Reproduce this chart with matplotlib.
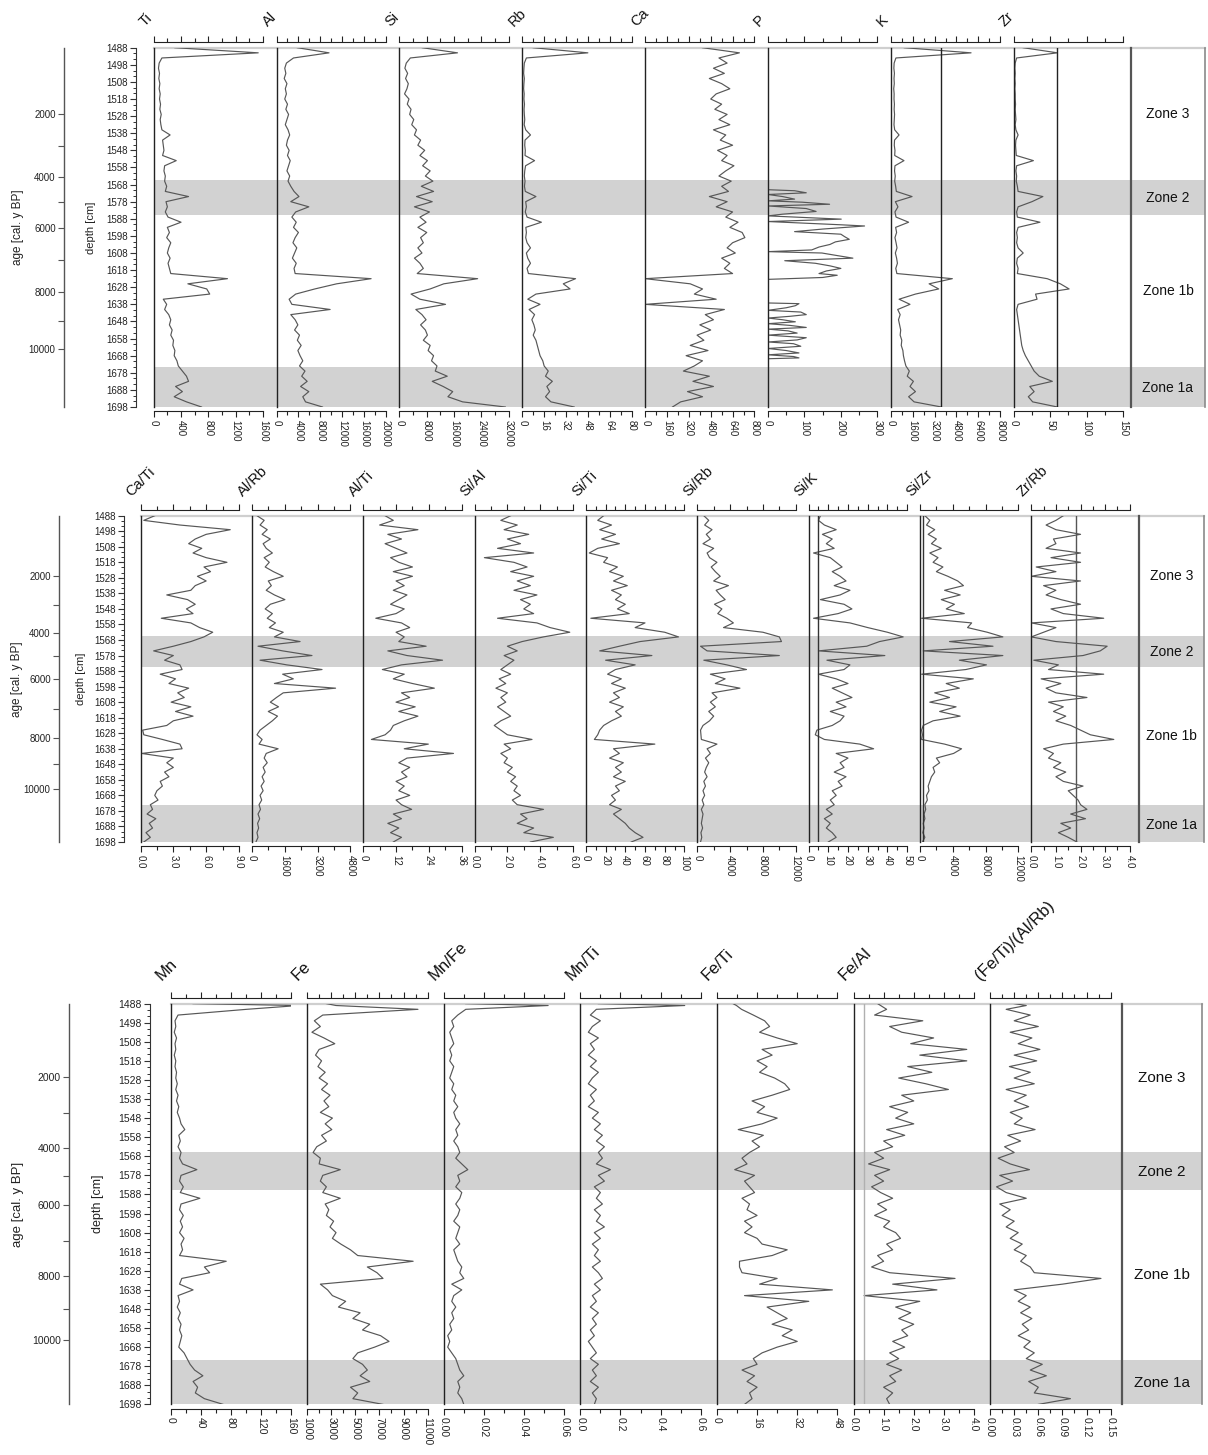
"""XRF element and ratio profiles against depth, with age scale and zonation"""

import numpy as np
import matplotlib
matplotlib.use("Agg")
import matplotlib.pyplot as plt
from matplotlib.ticker import FixedLocator, FormatStrFormatter, AutoMinorLocator

plt.rcParams['font.family'] = ['Liberation Sans', 'DejaVu Sans']

W, H = 1208, 1455
nan = np.nan

# sampling grid [cm]
depth = np.arange(1488, 1699, 3)
depth3 = np.concatenate([[1488, 1489], np.arange(1491, 1699, 3)])

# age model (cal. y BP) and the depth each tick sits at
age_ticks = [2000, 3000, 4000, 5000, 6000, 7000, 8000, 9000, 10000]
age_depth = [1526.7, 1545.3, 1563.6, 1578.1, 1593.4, 1612.2, 1630.8, 1648.0, 1664.0]

zone_names = ['Zone 3', 'Zone 2', 'Zone 1b', 'Zone 1a']
zone_label_depth = [1527, 1576, 1630, 1687]
shaded_zones = [(1565.5, 1585.5), (1674.5, 1698)]

# ---- panel 1: elements ----
ti = [310, 1530, 120, 80, 70, 85, 75, 90, 80, 95,
      85, 100, 90, 110, 95, 105, 120, 240, 130, 140,
      150, 130, 330, 160, 150, 170, 160, 190, 170, 510,
      180, 200, 170, 210, 400, 200, 230, 190, 250, 220,
      200, 240, 210, 230, 250, 1080, 500, 776, 820, 140,
      190, 160, 220, 250, 230, 270, 250, 290, 280, 310,
      300, 340, 360, 420, 480, 510, 320, 420, 300, 480,
      700]
al = [3800, 9600, 3100, 1800, 1500, 1700, 1400, 1900, 1600, 1800,
      1500, 2000, 1700, 2200, 1900, 1600, 2100, 2400, 2000, 1800,
      2300, 2000, 2500, 2200, 1900, 2400, 2100, 2600, 3200, 4100,
      2600, 5900, 3500, 2800, 3600, 3100, 4000, 3400, 3000, 3700,
      3300, 2900, 3600, 3200, 3400, 17300, 11000, 7000, 3500, 2300,
      2800, 9800, 2600, 3400, 3900, 3300, 4200, 3800, 4500, 3900,
      4300, 4800, 4200, 5200, 4600, 5600, 4400, 5900, 4800, 5300,
      8400]
si = [6700, 17000, 3200, 2000, 1600, 2400, 1800, 2600, 2200, 1500,
      2800, 2300, 3400, 3000, 4200, 3600, 5000, 4400, 6200, 5400,
      7400, 6000, 8200, 6800, 9000, 7600, 9800, 6400, 10000, 5000,
      9600, 4400, 8800, 6000, 7800, 5400, 8000, 6200, 7000, 5400,
      6600, 4400, 6000, 7000, 5200, 22900, 13000, 9000, 3400, 6000,
      13500, 4800, 6600, 7800, 6200, 7600, 8200, 7000, 9000, 8400,
      10000, 9400, 11000, 10500, 14000, 9600, 12800, 15600, 14200, 18500,
      31000]
rb = [8, 48, 3, 1.5, 1.2, 1.0, 1.5, 1.2, 1.0, 1.4,
      1.2, 1.6, 1.3, 1.5, 1.8, 1.4, 2.5, 6, 2, 1.8,
      2.2, 2.0, 9, 2.4, 1.8, 1.5, 2.0, 1.6, 2.2, 10,
      2.5, 3.0, 2.2, 3.5, 14, 2.6, 3, 2.5, 3.5, 6,
      3, 4, 6, 3.5, 4.5, 39, 30, 35, 10, 4,
      13, 5, 9, 7, 8.5, 9.5, 8, 10, 11, 12,
      13, 15, 16, 19, 17, 22, 18, 20, 17, 21,
      38]
ca = [420, 690, 540, 600, 500, 580, 470, 560, 620, 520,
      480, 560, 510, 600, 540, 620, 500, 590, 550, 640,
      530, 600, 560, 650, 590, 540, 630, 560, 610, 470,
      600, 520, 640, 590, 680, 620, 710, 730, 640, 600,
      660, 560, 620, 580, 640, 0, 330, 420, 360, 520,
      0, 580, 440, 500, 400, 480, 380, 430, 330, 460,
      300, 420, 360, 280, 470, 350, 500, 310, 420, 260,
      200]
p_depth = [1571.0, 1571.6, 1572.8, 1573.8, 1575.0, 1576.5, 1577.5, 1578.3, 1579.5, 1580.5,
           1582.0, 1583.7, 1585.3, 1586.3, 1588.2, 1589.6, 1591.5, 1592.2, 1594.0, 1595.5,
           1597.0, 1598.4, 1600.0, 1601.5, 1603.0, 1604.5, 1606.2, 1607.2, 1608.0, 1609.5,
           1611.0, 1612.5, 1614.0, 1615.5, 1617.0, 1618.5, 1620.0, 1621.0, 1622.3, 1623.4,
           1630.0,
           1637.2, 1637.6, 1638.8, 1640.0, 1641.5, 1642.5, 1644.0, 1645.0, 1646.0, 1647.0,
           1648.2, 1649.3, 1650.3, 1651.5, 1652.5, 1653.5, 1654.8, 1656.0, 1657.5, 1658.8,
           1660.0, 1661.0, 1662.5, 1663.8, 1665.0, 1666.4, 1667.5, 1668.5, 1669.3, 1669.8]
p_vals = [0, 73, 105, 0, 40, 73, 0, 94, 169, 0,
          105, 132, 40, 0, 201, 0, 200, 265, 150, 73,
          200, 210, 223, 185, 170, 140, 120, 0, 148, 190,
          233, 46, 130, 170, 200, 160, 140, 190, 150, 0,
          nan,
          0, 85, 75, 50, 0, 90, 105, 60, 0, 40,
          75, 0, 60, 105, 0, 55, 80, 0, 105, 80,
          0, 70, 90, 0, 50, 85, 0, 70, 85, 0]
k = [980, 5870, 370, 240, 220, 260, 230, 250, 210, 240,
     230, 260, 240, 270, 250, 230, 280, 600, 270, 250,
     300, 280, 960, 300, 270, 320, 280, 350, 400, 1550,
     330, 520, 300, 380, 1300, 350, 420, 300, 380, 450,
     330, 420, 480, 360, 440, 4500, 2800, 3500, 1800, 600,
     1400, 500, 680, 560, 640, 720, 680, 800, 760, 880,
     920, 1000, 1100, 1350, 1200, 1650, 1400, 1800, 1300, 1700,
     3700]
zr = [13, 60, 4, 2, 1.5, 2, 1.5, 2, 1.5, 2,
      2, 2.5, 2, 2.5, 3, 2, 3, 6, 3, 2.5,
      3, 3.5, 27, 4, 3, 4, 3.5, 5, 6, 40,
      25, 6, 4, 5, 36, 6, 4, 5, 4, 6,
      13, 5, 4, 6, 5, 46, 64, 76, 30, 32,
      6, 4, 5, 6, 7, 8, 9, 10, 11, 13,
      16, 20, 24, 28, 35, 53, 22, 28, 20, 26,
      60]

# ---- panel 2: ratios ----
ca_ti = [1.3, 0.3, 3.6, 8.2, 6.0, 5.0, 4.4, 5.6, 4.8, 6.0,
         7.9, 5.8, 6.4, 5.2, 6.0, 5.0, 4.6, 2.4, 4.3, 5.0,
         4.2, 4.8, 1.9, 4.6, 5.4, 6.6, 5.8, 4.6, 3.0, 1.2,
         3.0, 2.2, 3.6, 3.8, 1.8, 3.2, 2.6, 4.4, 3.4, 4.0,
         2.8, 4.6, 3.2, 4.8, 3.0, 2.4, 0.2, 0.3, 2.0, 3.6,
         3.8, 0.1, 3.0, 2.4, 3.0, 2.2, 2.6, 1.8, 2.0, 1.5,
         1.3, 1.6, 0.9, 1.1, 0.6, 1.4, 0.8, 1.1, 0.5, 0.9,
         0.3]
al_rb = [250, 600, 400, 750, 500, 900, 550, 700, 1000, 600,
         850, 650, 1050, 1530, 800, 950, 700, 1100, 1610, 900,
         650, 1000, 750, 1150, 850, 1530, 1100, 2350, 300, 1500,
         2930, 400, 1700, 3420, 1500, 2020, 1100, 4080, 1530, 1200,
         900, 1300, 800, 1250, 1000, 700, 400, 250, 500, 350,
         1280, 700, 600, 750, 550, 650, 500, 600, 450, 550,
         400, 480, 350, 420, 300, 380, 280, 330, 250, 300,
         200]
al_ti = [8, 11, 6, 20, 9, 14, 8, 12, 16, 10,
         13, 18, 11, 18, 12, 15, 11, 16, 13, 10,
         15, 12, 4.6, 14, 17, 12, 15, 13, 23, 9,
         16, 29, 14, 7, 15, 11, 18, 26, 14, 17,
         12, 19, 13, 20, 15, 11, 10, 8, 3, 23.8,
         15, 33, 16, 13, 17, 14, 16, 12, 15, 13,
         17, 12, 14, 17.7, 11, 14, 9, 13, 10, 14,
         11]
si_al = [2.2, 1.6, 2.6, 1.8, 3.3, 2.0, 2.8, 1.4, 3.6, 0.6,
         2.4, 3.2, 2.2, 3.6, 2.6, 3.4, 2.4, 3.8, 2.8, 3.4,
         3.0, 3.6, 1.4, 3.8, 4.6, 5.8, 4.2, 2.9, 2.0, 2.6,
         1.8, 2.4, 2.0, 1.6, 2.2, 1.5, 1.9, 1.3, 2.0, 1.6,
         1.9, 1.4, 1.8, 2.2, 1.6, 1.2, 1.6, 2.0, 3.5, 1.8,
         2.2, 1.6, 2.0, 1.8, 2.3, 2.0, 2.5, 2.2, 2.6, 2.4,
         2.8, 2.3, 2.6, 4.2, 2.8, 3.2, 2.6, 3.6, 3.0, 4.8,
         3.4]
si_ti = [18, 12, 26, 14, 30, 16, 34, 12, 3.4, 22,
         18, 32, 24, 38, 28, 42, 26, 36, 30, 40,
         32, 44, 5, 60, 50, 80, 94, 55, 34, 14,
         67, 20, 50, 30, 22, 36, 26, 40, 28, 34,
         24, 38, 30, 36, 26, 18, 14, 12, 8.6, 70,
         28, 34, 24, 38, 30, 36, 28, 40, 30, 34,
         26, 30, 24, 36, 28, 34, 40, 44, 50, 58,
         46]
si_rb = [800, 1400, 900, 1800, 1100, 1600, 700, 2000, 1200, 1500,
         2400, 1700, 2200, 2800, 2000, 3800, 2300, 2800, 3400, 2100,
         3000, 2500, 3600, 4400, 3200, 8000, 10000, 10260, 400, 1200,
         10000, 800, 3600, 6000, 1600, 3400, 2200, 5200, 1800, 2400,
         1600, 2200, 1400, 2000, 1500, 700, 400, 450, 500, 2400,
         1200, 1600, 1000, 1400, 1100, 900, 1200, 800, 1000, 700,
         900, 600, 800, 500, 700, 600, 500, 650, 450, 550,
         400]
si_k = [6, 5, 8, 14, 7, 12, 9, 13, 2.5, 11,
        14, 17, 12, 16, 19, 13, 21, 16, 6, 18,
        22, 15, 2.5, 21, 30, 40, 48, 36, 29.5, 5,
        38.7, 9.3, 21, 18, 5, 14, 20, 12, 17, 22,
        14, 19, 11, 18, 16, 12, 4.2, 3.4, 8, 26,
        33, 14, 20, 16, 18, 13, 19, 15, 17, 12,
        14, 11, 13, 9, 12, 8, 11, 9, 12, 14,
        10]
si_zr = [600, 1200, 800, 1800, 1000, 2000, 1400, 2600, 1200, 2200,
         1600, 2800, 2000, 3400, 4600, 5300, 3000, 4900, 2600, 4200,
         3200, 5400, 200, 6300, 5800, 8200, 10100, 3600, 8900, 400,
         10100, 4800, 8100, 5600, 200, 6500, 3200, 4800, 1800, 3600,
         1200, 4400, 2400, 4900, 1600, 400, 200, 300, 200, 3000,
         5070, 4100, 2000, 2400, 1600, 1800, 1400, 1200, 1000, 1100,
         800, 900, 600, 700, 500, 600, 400, 500, 350, 600,
         300]
zr_rb = [1.3, 1.0, 0.6, 1.0, 2.0, 0.9, 1.0, 0.6, 2.0, 0.8,
         2.0, 0.2, 1.0, 0.0, 2.0, 0.5, 1.0, 0.6, 1.2, 2.0,
         0.8, 1.3, 2.94, 0.0, 1.0, 0.5, 0.0, 1.0, 3.08, 2.8,
         2.1, 0.1, 1.1, 0.7, 2.94, 0.4, 1.2, 0.6, 1.0, 2.26,
         0.7, 1.3, 0.9, 1.4, 1.0, 1.6, 2.0, 2.4, 3.35, 1.3,
         0.5, 0.9, 0.7, 1.2, 0.9, 1.4, 1.0, 1.3, 2.1, 1.5,
         1.7, 1.9, 2.0, 2.26, 1.6, 2.2, 1.2, 1.6, 1.1, 1.5,
         1.85]

# ---- panel 3: redox (grid depth3, extra sample at 1489 cm) ----
mn = [30, 170, 101, 10, 6, 7, 5, 8, 6, 7, 5,
      7, 6, 8, 7, 9, 7, 10, 8, 11, 9,
      12, 14, 19, 11, 13, 10, 14, 12, 16, 35,
      14, 12, 17, 13, 39, 14, 12, 17, 13, 16,
      12, 18, 14, 16, 12, 74, 45, 52, 15, 12,
      30, 10, 12, 9, 13, 10, 14, 12, 15, 13,
      11, 18, 22, 26, 32, 43, 30, 36, 33, 45,
      70]
fe = [2600, 3400, 10200, 2300, 1600, 2100, 1400, 2400, 3300, 2000, 1700,
      2200, 1900, 2500, 2000, 2700, 2200, 2900, 2400, 2800, 2100,
      3100, 2500, 3050, 2200, 2600, 1800, 1500, 2100, 2000, 3750,
      2300, 2100, 2600, 2300, 3750, 2500, 2800, 2600, 3200, 2900,
      3400, 3100, 3800, 4600, 5200, 9800, 6000, 6800, 7300, 2100,
      2700, 3100, 4200, 3600, 5400, 4800, 6200, 5600, 7100, 7800,
      6600, 5200, 4800, 5600, 6000, 5400, 6200, 4600, 5200, 4800,
      7300]
mn_fe = [0.011, 0.052, 0.011, 0.007, 0.004, 0.005, 0.003, 0.004, 0.005, 0.003, 0.004,
         0.003, 0.005, 0.004, 0.003, 0.005, 0.004, 0.006, 0.005, 0.007, 0.005,
         0.006, 0.008, 0.006, 0.007, 0.005, 0.007, 0.008, 0.006, 0.009, 0.012,
         0.007, 0.008, 0.006, 0.009, 0.008, 0.006, 0.008, 0.007, 0.005, 0.008,
         0.007, 0.006, 0.008, 0.005, 0.006, 0.007, 0.009, 0.008, 0.010, 0.004,
         0.009, 0.005, 0.004, 0.006, 0.004, 0.005, 0.003, 0.004, 0.002, 0.003,
         0.002, 0.004, 0.006, 0.007, 0.008, 0.010, 0.007, 0.008, 0.007, 0.009,
         0.010]
mn_ti = [0.09, 0.52, 0.08, 0.05, 0.10, 0.06, 0.04, 0.09, 0.05, 0.07, 0.04,
         0.08, 0.05, 0.09, 0.06, 0.04, 0.08, 0.05, 0.07, 0.04, 0.09,
         0.06, 0.10, 0.07, 0.11, 0.08, 0.12, 0.09, 0.11, 0.08, 0.15,
         0.09, 0.12, 0.07, 0.10, 0.08, 0.11, 0.07, 0.10, 0.08, 0.12,
         0.07, 0.10, 0.06, 0.09, 0.07, 0.10, 0.06, 0.09, 0.11, 0.07,
         0.10, 0.06, 0.08, 0.05, 0.09, 0.06, 0.08, 0.05, 0.07, 0.04,
         0.06, 0.08, 0.05, 0.09, 0.06, 0.08, 0.05, 0.09, 0.06, 0.08,
         0.07]
fe_ti = [6.4, 7.8, 9.8, 14.5, 19, 21, 17, 24, 32, 18, 22,
         16, 20, 17, 23, 27, 29, 22, 14, 19, 16,
         24, 18, 8.5, 18.5, 14, 17, 13, 10, 12, 7.1,
         15, 11, 13, 15, 10, 13, 12, 16, 11, 14,
         11, 16, 18, 28, 22, 9, 9, 10, 24, 17,
         46, 11, 36.6, 20, 24, 28, 22, 30, 26, 32,
         24, 18, 14.5, 16, 10, 15, 12, 16, 13, 14,
         11]
fe_al = [0.8, 0.9, 1.1, 0.7, 2.3, 1.2, 1.6, 2.66, 1.9, 3.76, 2.2,
         3.76, 1.8, 2.6, 1.5, 2.4, 3.15, 1.6, 2.0, 1.2, 1.8,
         1.4, 2.0, 1.1, 1.7, 1.0, 1.3, 0.7, 1.0, 0.5, 1.2,
         0.7, 1.0, 0.6, 0.9, 1.3, 0.8, 1.1, 0.7, 1.2, 1.0,
         1.4, 1.56, 1.1, 1.3, 0.8, 1.0, 0.6, 1.2, 3.37, 1.3,
         2.77, 0.35, 2.2, 1.4, 1.9, 1.5, 2.0, 1.6, 1.8, 1.3,
         1.7, 1.2, 1.5, 1.1, 1.6, 1.2, 1.4, 1.0, 1.3, 1.1,
         1.2]
feti_alrb = [0.03, 0.045, 0.02, 0.05, 0.03, 0.06, 0.025, 0.052, 0.035, 0.062, 0.03,
             0.058, 0.024, 0.05, 0.03, 0.055, 0.02, 0.045, 0.03, 0.048, 0.025,
             0.04, 0.03, 0.056, 0.022, 0.038, 0.018, 0.03, 0.01, 0.025, 0.049,
             0.012, 0.028, 0.008, 0.02, 0.045, 0.012, 0.025, 0.015, 0.03, 0.02,
             0.035, 0.025, 0.04, 0.03, 0.045, 0.038, 0.05, 0.055, 0.138, 0.09,
             0.03, 0.045, 0.035, 0.05, 0.038, 0.052, 0.04, 0.048, 0.035, 0.05,
             0.042, 0.055, 0.045, 0.065, 0.05, 0.07, 0.048, 0.06, 0.055, 0.10,
             0.06]

LINE = '#575757'


def px_rect(left, top, width, height):
    return [left / W, 1 - (top + height) / H, width / W, height / H]


def draw_panel(fig, g, columns):
    top, bottom = g['top'], g['bottom']
    h = bottom - top
    first = g['left0']

    # shaded zones + grey top rule behind the columns
    bg = fig.add_axes(px_rect(first, top, g['zone_r'] - first, h))
    bg.set_zorder(0)
    bg.set_ylim(1698, 1488)
    bg.set_xlim(0, 1)
    bg.axis('off')
    for z0, z1 in shaded_zones:
        bg.axhspan(z0, z1, color='#d2d2d2', lw=0)
    bg.axhline(1488, color='#cfcfcf', lw=1.6, clip_on=False)

    for n, (name, vals, dep, lim, major, minor, fmt, ref) in enumerate(columns):
        left = first + n * g['pitch']
        ax = fig.add_axes(px_rect(left, top, g['width'], h))
        ax.set_zorder(1)
        ax.set_facecolor('none')
        ax.plot(vals, dep, color=LINE, lw=0.85)
        if ref is not None:
            ax.axvline(ref[0], color=ref[1], lw=1.0)
        ax.set_xlim(*lim)
        ax.set_ylim(1698, 1488)
        ax.set_yticks([])
        ax.spines['right'].set_visible(False)
        ax.spines['left'].set_color('#222222')
        ax.spines['left'].set_linewidth(1.0)
        ax.spines['top'].set_position(('outward', 4))
        ax.spines['bottom'].set_position(('outward', 3))
        for s in ('top', 'bottom'):
            ax.spines[s].set_linewidth(0.8)
            ax.spines[s].set_color('#222222')
        ax.xaxis.set_major_locator(FixedLocator(np.arange(lim[0], lim[1] + major * 0.01, major)))
        ax.xaxis.set_minor_locator(FixedLocator(np.arange(lim[0], lim[1] + minor * 0.01, minor)))
        ax.xaxis.set_major_formatter(FormatStrFormatter(fmt))
        ax.tick_params(axis='x', which='both', top=True, bottom=True, labeltop=False,
                       direction='out', width=0.8, color='#222222')
        ax.tick_params(axis='x', which='major', length=4, labelsize=g['tick_size'],
                       labelrotation=-90, pad=2, labelcolor='#222222')
        ax.tick_params(axis='x', which='minor', length=3)

        fig.text((left - 9) / W, 1 - g['head_y'] / H, name, rotation=45,
                 rotation_mode='anchor', ha='left', va='baseline',
                 fontsize=g['head_size'], color='#111111')

    # zone column
    zl, zr_ = g['zone_l'], g['zone_r']
    az = fig.add_axes(px_rect(zl, top, zr_ - zl, h))
    az.set_zorder(1)
    az.set_facecolor('none')
    az.set_ylim(1698, 1488)
    az.set_xticks([])
    az.set_yticks([])
    az.spines['top'].set_visible(False)
    az.spines['bottom'].set_visible(False)
    az.spines['left'].set_color('#555555')
    az.spines['left'].set_linewidth(1.6)
    az.spines['right'].set_color('#8a8a8a')
    az.spines['right'].set_linewidth(1.2)
    for name, d in zip(zone_names, zone_label_depth):
        az.text(0.5, d, name, transform=az.get_yaxis_transform(), ha='center',
                va='center', fontsize=g['zone_size'], color='#111111')

    # depth scale
    ad = fig.add_axes(px_rect(g['depth_x'], top, 1, h))
    ad.set_facecolor('none')
    ad.set_ylim(1698, 1488)
    ad.set_xticks([])
    for s in ('top', 'bottom', 'right'):
        ad.spines[s].set_visible(False)
    ad.spines['left'].set_color('#333333')
    ad.spines['left'].set_linewidth(0.8)
    ad.yaxis.set_major_locator(FixedLocator(np.arange(1488, 1699, 10)))
    ad.yaxis.set_minor_locator(AutoMinorLocator(3))
    ad.tick_params(axis='y', which='major', length=4, width=0.8, labelsize=g['tick_size'],
                   pad=2, color='#333333', labelcolor='#222222')
    ad.tick_params(axis='y', which='minor', length=2.5, width=0.7, color='#333333')

    # age scale
    aa = fig.add_axes(px_rect(g['age_x'], top, 1, h))
    aa.set_facecolor('none')
    aa.set_ylim(1698, 1488)
    aa.set_xticks([])
    for s in ('top', 'bottom', 'right'):
        aa.spines[s].set_visible(False)
    aa.spines['left'].set_color('#555555')
    aa.spines['left'].set_linewidth(1.0)
    aa.set_yticks(age_depth)
    aa.set_yticklabels([str(a) if a % 2000 == 0 else '' for a in age_ticks])
    aa.tick_params(axis='y', length=4, width=0.8, labelsize=g['tick_size'], pad=2,
                   color='#555555', labelcolor='#222222')

    yc = 1 - (top + bottom) / 2 / H
    fig.text(g['age_lab_x'] / W, yc, 'age [cal. y BP]', rotation=90, ha='center',
             va='center', fontsize=g['lab_size'], color='#222222')
    fig.text(g['depth_lab_x'] / W, yc, 'depth [cm]', rotation=90, ha='center',
             va='center', fontsize=g['lab_size'] - 0.5, color='#222222')


def main():
    fig = plt.figure(figsize=(W / 100, H / 100), dpi=100)

    p1 = dict(top=47.7, bottom=407.0, left0=153.7, pitch=122.86, width=109.3,
              zone_l=1131, zone_r=1205, depth_x=136, age_x=64, age_lab_x=18,
              depth_lab_x=91, head_y=27, head_size=10.5, zone_size=10,
              tick_size=7, lab_size=8.5)
    p2 = dict(top=515.7, bottom=842.0, left0=140.5, pitch=111.35, width=98.5,
              zone_l=1139.3, zone_r=1204, depth_x=124, age_x=59, age_lab_x=17,
              depth_lab_x=81, head_y=497, head_size=10.5, zone_size=10,
              tick_size=7, lab_size=8.5)
    p3 = dict(top=1003.6, bottom=1404.4, left0=170.5, pitch=136.6, width=120.5,
              zone_l=1121.7, zone_r=1201.7, depth_x=150, age_x=69, age_lab_x=18,
              depth_lab_x=98, head_y=981, head_size=12, zone_size=11,
              tick_size=7.5, lab_size=9.5)

    cols1 = [
        ('Ti', ti, depth, (0, 1600), 400, 200, '%d', None),
        ('Al', al, depth, (0, 20000), 4000, 2000, '%d', None),
        ('Si', si, depth, (0, 32000), 8000, 4000, '%d', None),
        ('Rb', rb, depth, (0, 80), 16, 8, '%d', None),
        ('Ca', ca, depth, (0, 800), 160, 80, '%d', None),
        ('P', p_vals, p_depth, (0, 300), 100, 50, '%d', None),
        ('K', k, depth, (0, 8000), 1600, 800, '%d', (3700, '#222222')),
        ('Zr', zr, depth, (0, 150), 50, 25, '%d', (60, '#222222')),
    ]
    cols2 = [
        ('Ca/Ti', ca_ti, depth, (0, 9), 3, 1.5, '%.1f', None),
        ('Al/Rb', al_rb, depth, (0, 4800), 1600, 800, '%d', None),
        ('Al/Ti', al_ti, depth, (0, 36), 12, 6, '%d', None),
        ('Si/Al', si_al, depth, (0, 6), 2, 1, '%.1f', None),
        ('Si/Ti', si_ti, depth, (0, 100), 20, 10, '%d', None),
        ('Si/Rb', si_rb, depth, (0, 12000), 4000, 2000, '%d', None),
        ('Si/K', si_k, depth, (0, 50), 10, 5, '%d', (5, '#333333')),
        ('Si/Zr', si_zr, depth, (0, 12000), 4000, 2000, '%d', (400, '#333333')),
        ('Zr/Rb', zr_rb, depth, (0, 4), 1, 0.5, '%.1f', (1.81, '#555555')),
    ]
    cols3 = [
        ('Mn', mn, depth3, (0, 160), 40, 20, '%d', None),
        ('Fe', fe, depth3, (1000, 11000), 2000, 1000, '%d', None),
        ('Mn/Fe', mn_fe, depth3, (0, 0.06), 0.02, 0.01, '%.2f', None),
        ('Mn/Ti', mn_ti, depth3, (0, 0.6), 0.2, 0.1, '%.1f', None),
        ('Fe/Ti', fe_ti, depth3, (0, 48), 16, 8, '%d', None),
        ('Fe/Al', fe_al, depth3, (0, 4), 1, 0.5, '%.1f', (0.35, '#b0b0b0')),
        ('(Fe/Ti)/(Al/Rb)', feti_alrb, depth3, (0, 0.15), 0.03, 0.015, '%.2f', None),
    ]

    draw_panel(fig, p1, cols1)
    draw_panel(fig, p2, cols2)
    draw_panel(fig, p3, cols3)

    fig.savefig('out.png', dpi=100)
    plt.close(fig)


if __name__ == "__main__":
    main()
